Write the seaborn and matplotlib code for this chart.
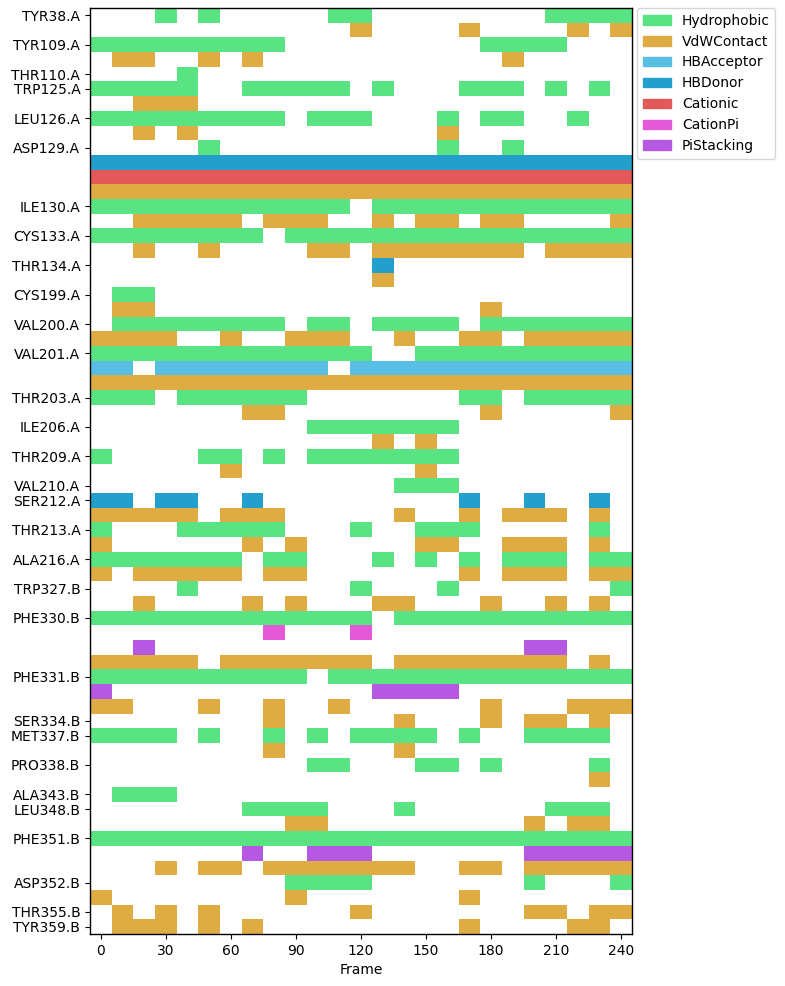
import numpy as np
import pandas as pd
import matplotlib
matplotlib.use("Agg")
import matplotlib.pyplot as plt
import seaborn as sns
from matplotlib.colors import ListedColormap
from matplotlib.patches import Patch

frames = [0, 10, 20, 30, 40, 50, 60, 70, 80, 90, 100, 110, 120, 130, 140, 150,
          160, 170, 180, 190, 200, 210, 220, 230, 240]
frame_ticks = [0, 30, 60, 90, 120, 150, 180, 210, 240]

interaction_types = ["Hydrophobic", "VdWContact", "HBAcceptor", "HBDonor",
                     "Cationic", "CationPi", "PiStacking"]
interaction_colors = ["#59e382", "#dfab43", "#59bee3", "#239fcd",
                      "#e35959", "#e359d8", "#b559e3"]

row_residue = [
    "TYR38.A", "TYR38.A", "TYR109.A", "TYR109.A", "THR110.A",
    "TRP125.A", "TRP125.A", "LEU126.A", "LEU126.A",
    "ASP129.A", "ASP129.A", "ASP129.A", "ASP129.A",
    "ILE130.A", "ILE130.A", "CYS133.A", "CYS133.A",
    "THR134.A", "THR134.A", "CYS199.A", "CYS199.A",
    "VAL200.A", "VAL200.A", "VAL201.A", "VAL201.A", "VAL201.A",
    "THR203.A", "THR203.A", "ILE206.A", "ILE206.A",
    "THR209.A", "THR209.A", "VAL210.A", "SER212.A", "SER212.A",
    "THR213.A", "THR213.A", "ALA216.A", "ALA216.A",
    "TRP327.B", "TRP327.B",
    "PHE330.B", "PHE330.B", "PHE330.B", "PHE330.B",
    "PHE331.B", "PHE331.B", "PHE331.B",
    "SER334.B", "MET337.B", "MET337.B", "PRO338.B", "PRO338.B",
    "ALA343.B", "LEU348.B", "LEU348.B",
    "PHE351.B", "PHE351.B", "PHE351.B",
    "ASP352.B", "ASP352.B", "THR355.B", "TYR359.B",
]

row_interaction = [
    "Hydrophobic", "VdWContact", "Hydrophobic", "VdWContact", "Hydrophobic",
    "Hydrophobic", "VdWContact", "Hydrophobic", "VdWContact",
    "Hydrophobic", "HBDonor", "Cationic", "VdWContact",
    "Hydrophobic", "VdWContact", "Hydrophobic", "VdWContact",
    "HBDonor", "VdWContact", "Hydrophobic", "VdWContact",
    "Hydrophobic", "VdWContact", "Hydrophobic", "HBAcceptor", "VdWContact",
    "Hydrophobic", "VdWContact", "Hydrophobic", "VdWContact",
    "Hydrophobic", "VdWContact", "Hydrophobic", "HBDonor", "VdWContact",
    "Hydrophobic", "VdWContact", "Hydrophobic", "VdWContact",
    "Hydrophobic", "VdWContact",
    "Hydrophobic", "CationPi", "PiStacking", "VdWContact",
    "Hydrophobic", "PiStacking", "VdWContact",
    "VdWContact", "Hydrophobic", "VdWContact", "Hydrophobic", "VdWContact",
    "Hydrophobic", "Hydrophobic", "VdWContact",
    "Hydrophobic", "PiStacking", "VdWContact",
    "Hydrophobic", "VdWContact", "VdWContact", "VdWContact",
]

row_frames = [
    [30, 50, 110, 120, 210, 220, 230, 240],
    [120, 170, 220, 240],
    [0, 10, 20, 30, 40, 50, 60, 70, 80, 180, 190, 200, 210],
    [10, 20, 50, 70, 190],
    [40],
    [0, 10, 20, 30, 40, 70, 80, 90, 100, 110, 130, 170, 180, 190, 210, 230],
    [20, 30, 40],
    [0, 10, 20, 30, 40, 50, 60, 70, 80, 100, 110, 120, 160, 180, 190, 220],
    [20, 40, 160],
    [50, 160, 190],
    frames,
    frames,
    frames,
    [0, 10, 20, 30, 40, 50, 60, 70, 80, 90, 100, 110, 130, 140, 150, 160, 170,
     180, 190, 200, 210, 220, 230, 240],
    [20, 30, 40, 50, 60, 80, 90, 100, 130, 150, 160, 180, 190, 240],
    [0, 10, 20, 30, 40, 50, 60, 70, 90, 100, 110, 120, 130, 140, 150, 160, 170,
     180, 190, 200, 210, 220, 230, 240],
    [20, 50, 100, 110, 130, 140, 150, 160, 170, 180, 190, 210, 220, 230, 240],
    [130],
    [130],
    [10, 20],
    [10, 20, 180],
    [10, 20, 30, 40, 50, 60, 70, 80, 100, 110, 130, 140, 150, 160, 180, 190,
     200, 210, 220, 230, 240],
    [0, 10, 20, 30, 60, 90, 100, 110, 140, 170, 180, 200, 210, 220, 230, 240],
    [0, 10, 20, 30, 40, 50, 60, 70, 80, 90, 100, 110, 120, 150, 160, 170, 180,
     190, 200, 210, 220, 230, 240],
    [0, 10, 30, 40, 50, 60, 70, 80, 90, 100, 120, 130, 140, 150, 160, 170, 180,
     190, 200, 210, 220, 230, 240],
    frames,
    [0, 10, 20, 40, 50, 60, 70, 80, 90, 170, 180, 200, 210, 220, 230, 240],
    [70, 80, 180, 240],
    [100, 110, 120, 130, 140, 150, 160],
    [130, 150],
    [0, 50, 60, 80, 100, 110, 120, 130, 140, 150, 160],
    [60, 150],
    [140, 150, 160],
    [0, 10, 30, 40, 70, 170, 200, 230],
    [0, 10, 20, 30, 40, 60, 70, 80, 140, 170, 190, 200, 210, 230],
    [0, 40, 50, 60, 70, 80, 120, 150, 160, 170, 230],
    [0, 70, 90, 150, 160, 190, 200, 210, 230],
    [0, 10, 20, 30, 40, 50, 60, 80, 90, 130, 150, 170, 190, 200, 210, 230, 240],
    [0, 20, 30, 40, 50, 60, 80, 90, 170, 190, 200, 210, 230, 240],
    [40, 120, 160, 240],
    [20, 70, 90, 130, 140, 180, 210, 230],
    [0, 10, 20, 30, 40, 50, 60, 70, 80, 90, 100, 110, 120, 140, 150, 160, 170,
     180, 190, 200, 210, 220, 230, 240],
    [80, 120],
    [20, 200, 210],
    [0, 10, 20, 30, 40, 60, 70, 80, 90, 100, 110, 120, 140, 150, 160, 170, 180,
     190, 200, 210, 230],
    [0, 10, 20, 30, 40, 50, 60, 70, 80, 90, 110, 120, 130, 140, 150, 160, 170,
     180, 190, 200, 210, 220, 230, 240],
    [0, 130, 140, 150, 160],
    [0, 10, 50, 80, 110, 180, 220, 230, 240],
    [80, 140, 180, 200, 210, 230],
    [0, 10, 20, 30, 50, 80, 100, 120, 130, 140, 150, 170, 200, 210, 220, 230],
    [80, 140],
    [100, 110, 150, 160, 180, 230],
    [230],
    [10, 20, 30],
    [70, 80, 90, 100, 140, 210, 220, 230],
    [90, 100, 200, 220, 230],
    frames,
    [70, 100, 110, 120, 200, 210, 220, 230, 240],
    [30, 50, 60, 80, 90, 100, 110, 120, 130, 140, 170, 180, 200, 210, 220, 230,
     240],
    [90, 100, 110, 120, 200, 240],
    [0, 90, 170],
    [10, 30, 50, 120, 200, 210, 230, 240],
    [10, 20, 30, 50, 70, 170, 220, 230],
]

# ---- build matrix of interaction codes ----
code = {t: i + 1 for i, t in enumerate(interaction_types)}
mat = np.zeros((len(row_residue), len(frames)))
for i, (inter, fr) in enumerate(zip(row_interaction, row_frames)):
    for f in fr:
        mat[i, frames.index(f)] = code[inter]
df = pd.DataFrame(mat, columns=frames)

W, H = 785, 986
fig = plt.figure(figsize=(W / 100, H / 100), dpi=100)
ax = fig.add_axes([90 / W, 1 - 934 / H, 542 / W, 926 / H])

sns.heatmap(df, mask=(df == 0), cmap=ListedColormap(interaction_colors),
            vmin=0.5, vmax=len(interaction_types) + 0.5, cbar=False, ax=ax,
            xticklabels=False, yticklabels=False)

# residue ticks at first row of each residue
tick_pos, tick_lab = [], []
for i, r in enumerate(row_residue):
    if i == 0 or row_residue[i - 1] != r:
        tick_pos.append(i + 0.5)
        tick_lab.append(r)
ax.set_yticks(tick_pos)
ax.set_yticklabels(tick_lab, rotation=0, fontsize=10)

ax.set_xticks([frames.index(f) + 0.5 for f in frame_ticks])
ax.set_xticklabels([str(f) for f in frame_ticks], rotation=0, fontsize=10)
ax.set_xlabel("Frame", fontsize=10)
ax.set_ylabel("")
ax.tick_params(left=True, bottom=True, length=3.5, width=0.8)

for s in ax.spines.values():
    s.set_visible(True)
    s.set_color("black")
    s.set_linewidth(1.0)

handles = [Patch(color=c, label=t) for t, c in zip(interaction_types, interaction_colors)]
ax.legend(handles=handles, loc="upper left", bbox_to_anchor=(1.01, 1),
          fontsize=10, borderaxespad=0)

fig.savefig("out.png", dpi=100)
